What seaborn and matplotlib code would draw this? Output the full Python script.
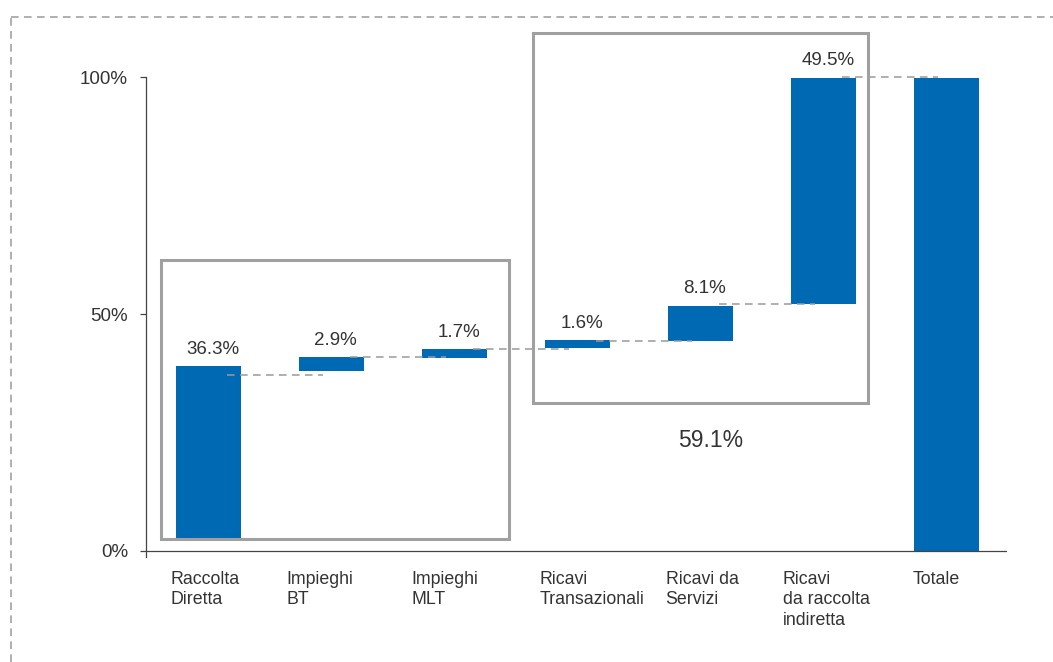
import matplotlib
matplotlib.use("Agg")
import matplotlib.pyplot as plt
import matplotlib.transforms as mtransforms
from matplotlib.patches import Rectangle
from matplotlib.lines import Line2D
import seaborn as sns
import pandas as pd

# ---- data ----
categories = ["Raccolta\nDiretta", "Impieghi\nBT", "Impieghi\nMLT", "Ricavi\nTransazionali",
              "Ricavi da\nServizi", "Ricavi\nda raccolta\nindiretta", "Totale"]
bar_bottoms = [2.6, 37.9, 40.8, 42.9, 44.4, 52.2, 0.0]
bar_tops = [39.0, 40.9, 42.6, 44.5, 51.7, 100.0, 100.0]
value_labels = ["36.3%", "2.9%", "1.7%", "1.6%", "8.1%", "49.5%", ""]
connector_levels = [37.2, 41.0, 42.6, 44.3, 52.05, 100.0]
group_label = "59.1%"
y_ticks = [0, 50, 100]
y_tick_labels = ["0%", "50%", "100%"]

BLUE = "#0069B4"
GREY = "#A0A0A0"
DASH_GREY = "#9A9A9A"
TEXT = "#333333"

sns.set_theme(style="white")
plt.rcParams["font.family"] = ["Liberation Sans", "DejaVu Sans"]

fig = plt.figure(figsize=(10.53, 6.62), dpi=100)
ax = fig.add_axes([146 / 1053, 1 - 556.7 / 662, (1007 - 146) / 1053, (556.7 - 77.5) / 662])

df = pd.DataFrame({
    "cat": categories,
    "height": [t - b for t, b in zip(bar_tops, bar_bottoms)],
    "bottom": bar_bottoms,
})
sns.barplot(data=df, x="cat", y="height", order=categories, color=BLUE, saturation=1,
            width=0.53, bottom=df["bottom"].values, linewidth=0, ax=ax)

ax.set_xlim(-0.508, 6.49)
ax.set_ylim(-1.3, 100)

# axes styling
for s in ["top", "right", "bottom"]:
    ax.spines[s].set_visible(False)
ax.spines["left"].set_color("#444444")
ax.spines["left"].set_linewidth(0.9)
ax.axhline(0, color="#444444", lw=0.9, zorder=1)
ax.set_xlabel("")
ax.set_ylabel("")
ax.set_yticks(y_ticks)
ax.set_yticklabels(y_tick_labels, fontsize=13.5, color=TEXT)
ax.tick_params(axis="y", direction="out", length=4, width=0.9, color="#444444", pad=9, left=True)
ax.tick_params(axis="x", length=0, pad=10)
ax.set_xticks(range(len(categories)))
ax.set_xticklabels(categories, fontsize=12.8, color=TEXT, ha="left", va="top", linespacing=1.28)
# left-aligned label offsets (pixels) relative to category centre
label_shift_px = [-38, -45, -43, -38, -35, -41, -34]
for lbl, dx in zip(ax.get_xticklabels(), label_shift_px):
    off = mtransforms.ScaledTranslation(dx / 100, 0, fig.dpi_scale_trans)
    lbl.set_transform(lbl.get_transform() + off)

# value labels
for i, (lab, top) in enumerate(zip(value_labels, bar_tops)):
    if lab:
        ax.annotate(lab, xy=(i, top), xytext=(3, 9.0), textcoords="offset points",
                    ha="center", va="baseline", fontsize=13.5, color=TEXT)

# dashed connectors
for i, lvl in enumerate(connector_levels):
    ax.plot([i + 0.15, i + 0.93], [lvl, lvl], color=DASH_GREY, lw=1.1,
            dashes=(5, 3.5), zorder=3, clip_on=False)

# grouping boxes
ax.add_patch(Rectangle((-0.386, 2.37), 2.443 + 0.386, 61.4 - 2.37, fill=False,
                       edgecolor=GREY, lw=2.2, zorder=4, clip_on=False))
ax.add_patch(Rectangle((2.641, 31.1), 5.359 - 2.641, 109.5 - 31.1, fill=False,
                       edgecolor=GREY, lw=2.2, zorder=4, clip_on=False))
ax.text(4.085, 23.3, group_label, ha="center", va="center", fontsize=16.5, color=TEXT)

# dashed outer frame (top and left edges)
fig.add_artist(Line2D([11 / 1053, 1.0], [1 - 17 / 662, 1 - 17 / 662], transform=fig.transFigure,
                      color=DASH_GREY, lw=1.1, dashes=(5, 3.5)))
fig.add_artist(Line2D([11 / 1053, 11 / 1053], [0, 1 - 17 / 662], transform=fig.transFigure,
                      color=DASH_GREY, lw=1.1, dashes=(5, 3.5)))

fig.savefig("out.png", dpi=100, facecolor="white")
